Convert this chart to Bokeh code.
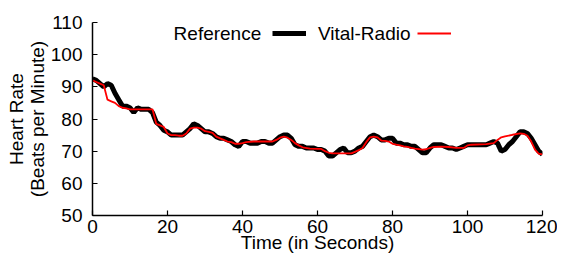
from bokeh.plotting import figure
from bokeh.models import Legend, LegendItem, Label, FixedTicker
from bokeh.embed import file_html
from bokeh.resources import INLINE

# Reference (ground truth) heart rate, 1-s resolution
ref_t = list(range(0, 121))
ref_hr = [92.5, 92, 91, 90, 91, 90.5, 88, 86, 84, 84,
          83.5, 82, 83.5, 83, 83, 83, 82, 79, 78, 76.5,
          76, 75, 75, 75, 75, 76, 77, 78.5, 78, 77,
          76, 76, 75.5, 74.5, 74, 74, 73.5, 73, 72, 71.5,
          73, 73, 72.5, 72.5, 72.5, 73, 73, 72.5, 72.5, 73.5,
          74.5, 75, 75, 74, 72, 71.5, 71.5, 71, 71, 71,
          70.5, 70.5, 70, 68.5, 68.5, 69.5, 70.5, 71, 69.5, 69.5,
          70, 71, 71.5, 73, 74.5, 75, 74.5, 73.5, 73.5, 74,
          74, 72.5, 72.5, 72, 72, 71.5, 71.5, 70.5, 69.5, 69.5,
          71, 72, 72, 72, 71.5, 71, 71, 70.5, 71, 71.5,
          72, 72, 72, 72, 72, 72, 72.5, 73, 72.5, 70,
          70.5, 72, 73, 74.5, 76, 76, 75.5, 74, 72, 70,
          69]

# Vital-Radio estimate
vr_t = [0, 1, 2, 3, 4, 5, 6, 7, 8, 9, 10, 16, 17, 18, 19, 20, 21, 22, 23, 24,
        25, 26, 27, 28, 29, 30, 31, 32, 33, 34, 35, 36, 37, 38, 39, 40, 41, 43,
        46, 48, 49, 50, 51, 52, 53, 54, 55, 56, 58, 60, 61, 62, 63, 64, 69, 70,
        71, 72, 73, 74, 75, 76, 77, 78, 79, 80, 81, 82, 83, 84, 85, 86, 88, 89,
        90, 91, 93, 95, 97, 99, 100, 101, 105, 107, 108, 109, 110, 112, 114, 115,
        116, 117, 118, 119, 120]
vr_hr = [92, 91.5, 91, 90.5, 86, 85.5, 85, 84, 83.5, 83.3, 83, 83, 78.5, 78, 77.5, 75.5, 75, 75, 74.8, 74.8,
         75.5, 77, 77.3, 77.3, 77, 76.2, 76, 75.7, 74.5, 74, 73.5, 73, 72.8, 72.3, 72.3, 72.5, 72.8, 73,
         73, 73, 73.5, 74.2, 74.5, 74.2, 73.5, 72.5, 71.8, 71.2, 70.8, 70.7, 70.7, 70, 69.5, 69.3, 69.3, 69.8,
         70.3, 71, 72.8, 74.3, 74.5, 74.3, 73.3, 73.2, 73, 72.3, 72, 71.8, 71.5, 71.3, 71, 70.8, 70.5, 70.6,
         71, 71.3, 71.4, 71.3, 71, 71, 71.8, 72, 72.2, 72.5, 73.5, 74.3, 74.6, 75.1, 75.5, 75.4,
         74.8, 73, 70.5, 69.2, 69]

x_ticks = [0, 20, 40, 60, 80, 100, 120]
y_ticks = [50, 60, 70, 80, 90, 100, 110]
series_names = ["Reference", "Vital-Radio"]
x_title = "Time (in Seconds)"
y_title = "Heart Rate\n(Beats per Minute)"

FONT = "Liberation Sans"
FS = "19px"

p = figure(width=557, height=259, output_backend="svg", toolbar_location=None,
           x_range=(0, 120), y_range=(50, 110),
           min_border_left=92, min_border_right=15, min_border_top=22, min_border_bottom=44)
p.outline_line_color = None
p.grid.visible = False
p.background_fill_color = "white"

r_ref = p.line(ref_t, ref_hr, line_color="black", line_width=5)
r_vr = p.line(vr_t, vr_hr, line_color="#ff0000", line_width=1.8)

for ax in (p.xaxis[0], p.yaxis[0]):
    ax.major_tick_in = 5
    ax.major_tick_out = 0
    ax.minor_tick_line_color = None
    ax.axis_line_width = 1.5
    ax.major_tick_line_width = 1.2
    ax.major_label_text_font = FONT
    ax.major_label_text_font_size = FS
    ax.major_label_text_color = "black"
    ax.axis_label_text_font = FONT
    ax.axis_label_text_font_size = FS
    ax.axis_label_text_font_style = "normal"
    ax.axis_label_text_color = "black"
    ax.axis_label_text_line_height = 1.0

p.xaxis.ticker = FixedTicker(ticks=x_ticks)
p.yaxis.ticker = FixedTicker(ticks=y_ticks)
p.xaxis.axis_label = x_title
p.yaxis.axis_label = y_title
p.xaxis.major_label_standoff = 4
p.xaxis.axis_label_standoff = -4
p.yaxis.major_label_standoff = 10
p.yaxis.axis_label_standoff = 0

# legend: text first, sample line after
def sample_legend(renderer, loc):
    lg = Legend(items=[LegendItem(label=" ", renderers=[renderer])],
                location=loc, orientation="horizontal",
                glyph_width=34, glyph_height=10, label_height=10, label_width=1,
                label_standoff=0, label_text_font_size="10px",
                padding=0, margin=0, spacing=0,
                border_line_alpha=0, background_fill_alpha=0)
    p.add_layout(lg, "center")

sample_legend(r_ref, (180, 177))
sample_legend(r_vr, (325, 177))

p.add_layout(Label(x=45.0, y=106.7, text=series_names[0], text_align="right", text_baseline="middle",
                   text_font=FONT, text_font_size=FS, text_color="black"))
p.add_layout(Label(x=84.8, y=106.7, text=series_names[1], text_align="right", text_baseline="middle",
                   text_font=FONT, text_font_size=FS, text_color="black"))

open("out.html", "w").write(file_html(p, INLINE))
